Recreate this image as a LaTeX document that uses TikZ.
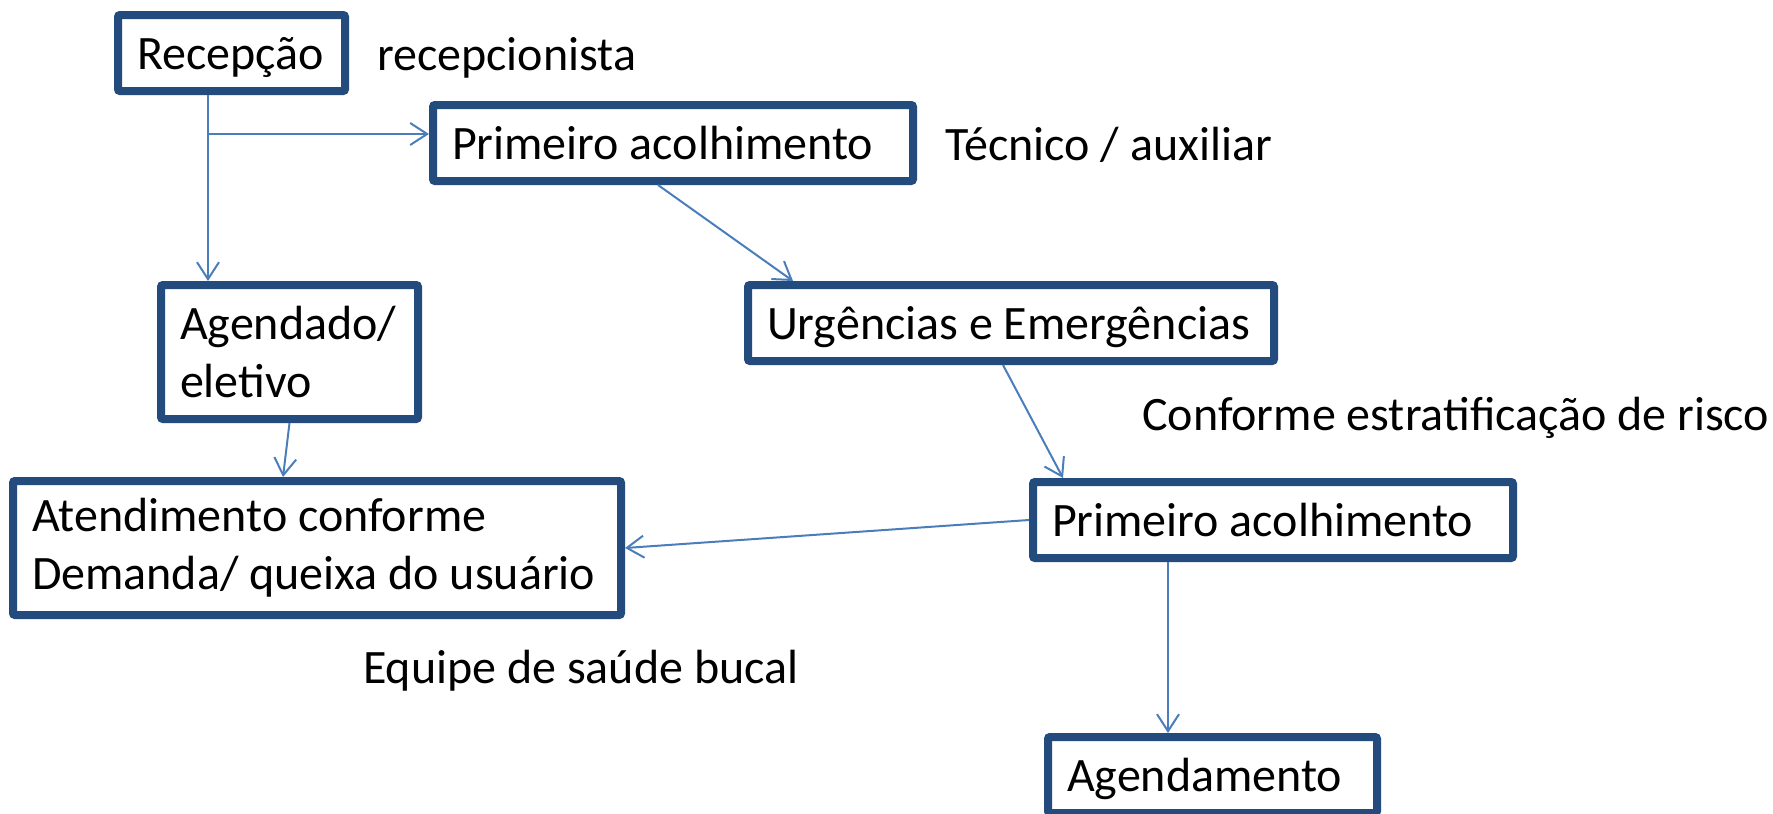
\documentclass[tikz,border=0pt]{standalone}
\usepackage{fontspec}
\setmainfont{Carlito}
\usetikzlibrary{arrows.meta, positioning}
\definecolor{boxblue}{RGB}{35, 75, 125}
\definecolor{linkblue}{RGB}{74, 126, 187}
\newcommand{\boxline}[1]{\mbox{\spaceskip=0pt\xspaceskip=0pt\relax#1}}

\begin{document}
\begin{tikzpicture}[
        x=1pt, y=-1pt,
        box/.style={rectangle, draw=boxblue, line width=8pt, rounded corners=2pt, inner xsep=19pt, inner ysep=0pt, anchor=north west, font=\fontsize{48}{58}\selectfont},
        onebox/.style={box, text height=44pt, text depth=12pt, minimum height=76pt},
        twobox/.style={box, minimum height=134pt},
        note/.style={inner sep=0pt, anchor=base west, font=\fontsize{48}{58}\selectfont},
        conn/.style={-{Straight Barb[length=17pt, width=22pt]}, draw=linkblue, line width=2pt}
    ]
        \useasboundingbox (0,0) rectangle (1773,814);

        % Left column
        \node (recepcao) [onebox, text width=189pt] at (114,11) {\boxline{Recepção}};
        \node (agendado) [twobox, text width=219pt] at (157,281) {\boxline{Agendado/}\\\boxline{eletivo}};
        \node (atendimento) [twobox, text width=570pt] at (9,477) {\boxline{Atendimento conforme}\\\boxline{Demanda/ queixa do usuário}};

        % Right column
        \node (primeiro) [onebox, text width=442pt] at (429,101) {\boxline{Primeiro acolhimento}};
        \node (urgencias) [onebox, text width=488pt] at (744,281) {\boxline{Urgências e Emergências}};
        \node (acolhimento) [onebox, text width=442pt] at (1029,478) {\boxline{Primeiro acolhimento}};
        \node (agendamento) [onebox, text width=291pt] at (1044,733) {\boxline{Agendamento}};

        % Side notes
        \node (recepcionista) [note] at (377,70) {recepcionista};
        \node (tecnico) [note] at (945,160) {Técnico / auxiliar};
        \node (risco) [note] at (1142,430) {Conforme estratificação de risco};
        \node (equipe) [note] at (363,683) {Equipe de saúde bucal};

        % Connecting Arrows
        \coordinate (split) at (208,134);
        \coordinate (drop) at ([xshift=139pt]acolhimento.south west);
        \draw [conn] (recepcao.south -| split) -- (agendado.north -| split);
        \draw [conn] (split) -- (split -| primeiro.west);
        \draw [conn] ([xshift=-15pt]primeiro.south) -- ([xshift=49pt]urgencias.north west);
        \draw [conn] ([xshift=-8pt]urgencias.south) -- ([xshift=34pt]acolhimento.north west);
        \draw [conn] (acolhimento.west) -- (atendimento.east);
        \draw [conn] (agendado.south) -- ([xshift=-34pt]atendimento.north);
        \draw [conn] (drop) -- (drop |- agendamento.north);
    \end{tikzpicture}
\end{document}
